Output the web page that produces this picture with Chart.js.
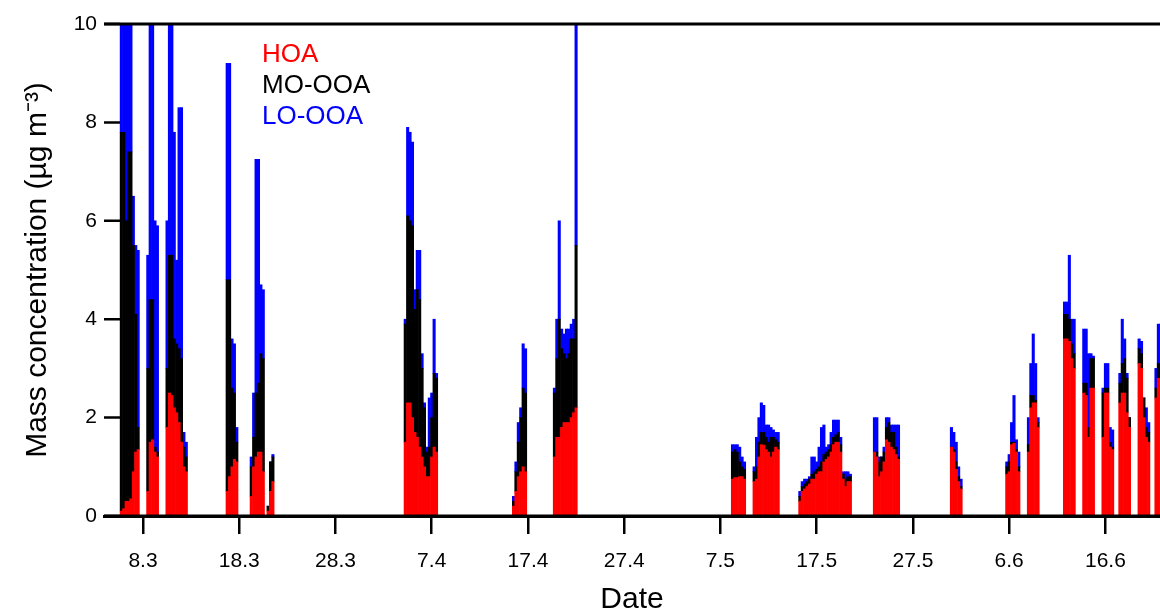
<!DOCTYPE html>
<html>
<head>
<meta charset="utf-8">
<script src="https://cdn.jsdelivr.net/npm/chart.js@4/dist/chart.umd.min.js"></script>
<style>
  html, body { margin: 0; padding: 0; background: #fff; }
  #wrap { width: 1160px; height: 615px; position: relative; }
</style>
</head>
<body>
<div id="wrap"><canvas id="pmfChart"></canvas></div>
<script>
// x = days since 1 March, samples every 6 h inside each measurement episode
const tickDays = [7, 17, 27, 37, 47, 57, 67, 77, 87, 97, 107]
const tickLabels = ['8.3', '18.3', '28.3', '7.4', '17.4', '27.4', '7.5', '17.5', '27.5', '6.6', '16.6']
const stepDays = 0.25
const episodeStart = [4.75, 7.5, 9.5, 15.75, 18.25, 20.0, 34.25, 45.5, 49.75, 68.25, 70.5,
  75.25, 83.0, 91.0, 96.75, 99.0, 102.75, 104.75, 106.75, 108.5, 110.5, 112.25]

const hoa = [
  [0.1, 0.15, 0.3, 0.3, 0.35, 0.9, 1.3, 1.35],
  [0.5, 1.5, 1.55, 1.3, 1.2],
  [1.8, 2.5, 2.45, 2.2, 2.1, 1.9, 1.5, 1.0, 0.9],
  [0.5, 0.8, 1.0, 1.15, 1.1],
  [0.4, 1.0, 1.2, 1.3, 1.3, 0.9],
  [0.1, 0.5, 0.7],
  [1.5, 2.3, 2.3, 2.0, 1.7, 1.6, 1.4, 1.2, 1.0, 0.8, 0.8, 1.2, 1.4, 1.3],
  [0.2, 0.5, 0.8, 0.9, 1.0, 0.9],
  [1.2, 1.6, 1.6, 1.8, 1.9, 1.9, 1.9, 2.0, 2.1, 2.2],
  [0.75, 0.78, 0.78, 0.8, 0.8, 0.75],
  [0.7, 0.75, 1.2, 1.45, 1.44, 1.35, 1.3, 1.2, 1.3, 1.4, 1.35],
  [0.3, 0.5, 0.55, 0.6, 0.65, 0.75, 0.75, 0.85, 0.9, 0.9, 1.1, 1.15, 1.2, 1.3, 1.45, 1.5, 1.5, 1.3, 0.75, 0.6, 0.7, 0.7],
  [1.3, 1.2, 0.8, 0.9, 1.1, 1.55, 1.5, 1.4, 1.35, 1.25, 1.15],
  [1.4, 1.3, 0.95, 0.7, 0.55],
  [0.85, 0.9, 1.45, 1.48, 1.3, 0.9],
  [1.3, 2.2, 2.3, 2.3, 1.8],
  [3.6, 3.6, 3.55, 3.2, 3.0],
  [2.5, 2.45, 1.6, 2.6, 2.6],
  [1.6, 2.5, 2.5, 1.4, 1.35],
  [2.3, 2.5, 2.5, 2.1, 1.8],
  [3.1, 3.0, 2.0, 1.6, 1.5],
  [2.4, 2.8, 2.8]
]

const mooa = [
  [7.7, 7.65, 5.7, 7.1, 7.05, 4.6, 2.8, 0.45],
  [2.5, 2.9, 2.85, 0.1, 0.1],
  [1.2, 2.8, 2.85, 1.4, 1.4, 1.5, 1.7, 0.4, 0.3],
  [4.3, 4.0, 1.6, 1.35, 0.4],
  [0.6, 0.6, 1.3, 1.4, 2.0, 2.3],
  [0.1, 0.6, 0.5],
  [2.4, 3.8, 3.7, 3.9, 2.5, 3.0, 3.0, 1.8, 1.2, 0.5, 0.6, 0.8, 1.5, 1.5],
  [0.1, 0.4, 0.7, 1.1, 1.6, 1.6],
  [1.3, 1.6, 2.4, 1.6, 1.4, 1.3, 1.4, 1.6, 1.5, 3.3],
  [0.55, 0.57, 0.52, 0.3, 0.2, 0.2],
  [0.2, 0.25, 0.3, 0.25, 0.26, 0.25, 0.2, 0.4, 0.3, 0.15, 0.15],
  [0.1, 0.1, 0.1, 0.1, 0.1, 0.1, 0.15, 0.1, 0.1, 0.2, 0.15, 0.15, 0.15, 0.15, 0.15, 0.15, 0.2, 0.15, 0.1, 0.15, 0.1, 0.1],
  [0.0, 0.1, 0.3, 0.3, 0.2, 0.25, 0.4, 0.3, 0.35, 0.15, 0.05],
  [0.0, 0.05, 0.15, 0.1, 0.05],
  [0.15, 0.2, 0.05, 0.02, 0.05, 0.1],
  [0.15, 0.25, 0.15, 0.05, 0.1],
  [0.5, 0.5, 0.45, 0.3, 0.3],
  [0.2, 0.25, 0.2, 0.6, 0.6],
  [0.9, 0.1, 0.1, 0.1, 0.05],
  [0.4, 0.6, 0.7, 0.7, 0.2],
  [0.3, 0.3, 0.4, 0.2, 0.2],
  [0.2, 0.3, 0.3]
]

const looa = [
  [2.7, 2.7, 4.5, 3.1, 3.1, 1.0, 1.4, 3.6],
  [2.3, 6.1, 6.1, 4.6, 4.6],
  [3.0, 5.2, 5.2, 4.2, 1.7, 4.9, 5.1, 0.3, 0.3],
  [4.4, 4.4, 1.0, 1.0, 0.3],
  [0.2, 0.9, 4.75, 4.55, 1.4, 1.4],
  [0.0, 0.0, 0.05],
  [0.1, 1.8, 1.8, 1.7, 0.4, 0.8, 1.0, 0.3, 0.1, 0.1, 1.0, 0.5, 1.1, 0.1],
  [0.1, 0.2, 0.4, 0.2, 0.9, 0.9],
  [0.1, 0.8, 2.0, 0.4, 0.4, 0.6, 0.5, 0.3, 0.4, 5.0],
  [0.15, 0.1, 0.15, 0.3, 0.2, 0.15],
  [0.1, 0.6, 0.5, 0.6, 0.55, 0.25, 0.35, 0.2, 0.15, 0.15, 0.2],
  [0.1, 0.1, 0.1, 0.05, 0.05, 0.35, 0.3, 0.15, 0.4, 0.7, 0.6, 0.1, 0.1, 0.25, 0.35, 0.3, 0.25, 0.15, 0.05, 0.15, 0.1, 0.05],
  [0.7, 0.7, 0.1, 0.0, 0.1, 0.2, 0.1, 0.15, 0.15, 0.45, 0.65],
  [0.4, 0.35, 0.4, 0.2, 0.15],
  [0.1, 0.15, 0.4, 0.95, 0.2, 0.3],
  [0.55, 0.65, 1.25, 0.75, 0.1],
  [0.25, 0.25, 1.3, 0.5, 0.7],
  [1.1, 1.1, 1.5, 0.1, 0.05],
  [0.1, 0.5, 0.5, 0.3, 0.35],
  [0.2, 0.9, 0.4, 0.1, 0.0],
  [0.2, 0.25, 0.0, 0.4, 0.2],
  [0.4, 0.8, 0.8]
]

const FONT = "'Liberation Sans', Arial, sans-serif"

const toPoints = (series) => {
  const pts = []
  series.forEach((ep, e) => {
    ep.forEach((v, i) => pts.push({ x: episodeStart[e] + i * stepDays, y: v }))
  })
  return pts
}

// frame lines, inward y ticks and the plain text legend
const framePlugin = {
  id: 'frame',
  afterDatasetsDraw(chart) {
    const { ctx, chartArea: a, scales: { y } } = chart
    ctx.save()
    ctx.strokeStyle = '#000'
    ctx.lineWidth = 3
    ctx.beginPath()
    ctx.moveTo(a.left, a.top)
    ctx.lineTo(a.right, a.top)
    ctx.moveTo(a.left, a.bottom)
    ctx.lineTo(a.right, a.bottom)
    ctx.stroke()
    ctx.lineWidth = 2.5
    ctx.beginPath()
    y.ticks.forEach(t => {
      const py = y.getPixelForValue(t.value)
      ctx.moveTo(a.left, py)
      ctx.lineTo(a.left + 16, py)
    })
    ctx.stroke()

    ctx.font = '26px ' + FONT
    ctx.textAlign = 'left'
    ctx.textBaseline = 'alphabetic'
    chart.data.datasets.forEach((ds, i) => {
      ctx.fillStyle = ds.backgroundColor
      ctx.fillText(ds.label, 262, 62 + i * 31)
    })
    ctx.restore()
  }
}

const canvas = document.getElementById('pmfChart')
new Chart(canvas, {
  type: 'bar',
  data: {
    datasets: [{
      label: 'HOA',
      data: toPoints(hoa),
      backgroundColor: '#ff0000',
    }, {
      label: 'MO-OOA',
      data: toPoints(mooa),
      backgroundColor: '#000000',
    }, {
      label: 'LO-OOA',
      data: toPoints(looa),
      backgroundColor: '#0000ff',
    }]
  },
  options: {
    responsive: true,
    maintainAspectRatio: false,
    animation: false,
    layout: { padding: { top: 24, right: 0, left: 0, bottom: 0 } },
    datasets: {
      bar: { barPercentage: 1, categoryPercentage: 1, borderWidth: 0, clip: 0 }
    },
    plugins: {
      legend: { display: false },
      tooltip: { enabled: false }
    },
    scales: {
      x: {
        type: 'linear',
        stacked: true,
        offset: false,
        min: 2.95,
        max: 112.67,
        afterFit: s => { s.height = 99 },
        afterBuildTicks: s => { s.ticks = tickDays.map(v => ({ value: v })) },
        border: { display: true, color: '#000', width: 3 },
        grid: { display: true, offset: false, drawOnChartArea: false, drawTicks: true, tickLength: 18, lineWidth: 2.5, color: '#000' },
        ticks: {
          autoSkip: false,
          maxRotation: 0,
          padding: 15,
          color: '#000',
          font: { family: FONT, size: 21 },
          callback: v => tickLabels[tickDays.indexOf(v)] ?? ''
        },
        title: {
          display: true,
          text: 'Date',
          color: '#000',
          padding: 0,
          font: { family: FONT, size: 30, lineHeight: 1 }
        }
      },
      y: {
        stacked: true,
        min: 0,
        max: 10,
        afterFit: s => { s.width = 104 },
        border: { display: false },
        grid: { display: false, drawTicks: false },
        ticks: {
          stepSize: 2,
          padding: 7,
          color: '#000',
          font: { family: FONT, size: 21 }
        },
        title: {
          display: true,
          text: 'Mass concentration (µg m⁻³)',
          color: '#000',
          padding: { top: 23, bottom: 0 },
          font: { family: FONT, size: 30, lineHeight: 1 }
        }
      }
    }
  },
  plugins: [framePlugin]
})
</script>
</body>
</html>
